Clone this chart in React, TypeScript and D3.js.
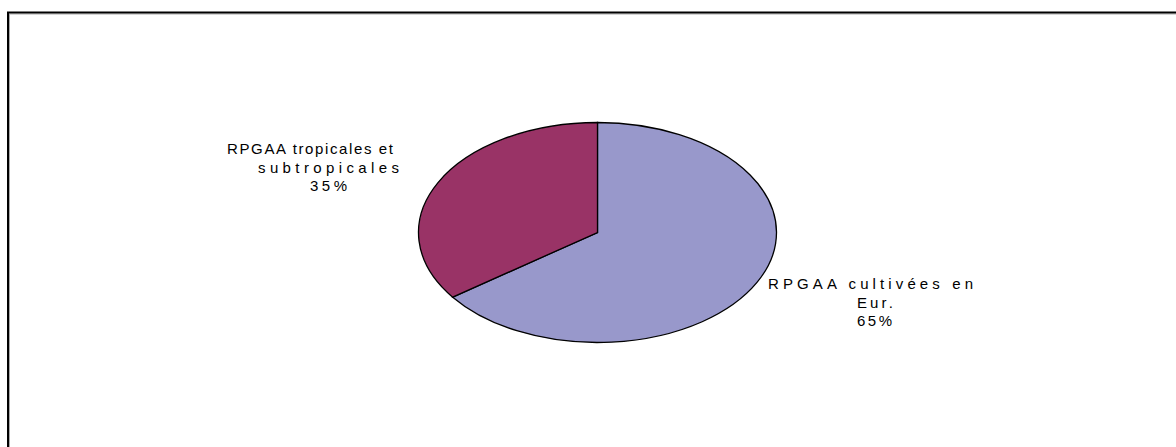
import React from "react";
import * as d3 from "d3";

const categories = ["RPGAA cultivées en Eur.", "RPGAA tropicales et subtropicales"];
const values = [65, 35];
const colors = ["#9898CB", "#993366"];
const labelLines = [
  ["RPGAA cultivées en", "Eur.", "65%"],
  ["RPGAA tropicales et", "subtropicales", "35%"],
];

const W = 1176;
const H = 447;
const cx = 597.5;
const cy = 232.5;
const rx = 179;
const ry = 110;

// label line boxes: [startX, endX, baselineY]
const labelBoxes = [
  [
    [768, 973, 289],
    [857, 893, 307.5],
    [857, 892, 326],
  ],
  [
    [227, 393, 154],
    [258, 399, 172.5],
    [310, 347, 191],
  ],
];

export default function App() {
  const pie = d3.pie<number>().sort(null).value((d) => d);
  const arcs = pie(values);
  const arc = d3.arc<d3.PieArcDatum<number>>().innerRadius(0).outerRadius(ry);
  return (
    <svg width={W} height={H} style={{ position: "absolute", left: 0, top: 0 }}>
      <rect x={0} y={0} width={W} height={H} fill="#fff" />
      <rect x={9.5} y={14} width={W + 50} height={H + 50} fill="none" stroke="#aaa" strokeWidth={1} />
      <rect x={8} y={12.5} width={W + 50} height={H + 50} fill="none" stroke="#000" strokeWidth={2} />
      <g transform={`translate(${cx},${cy}) scale(${rx / ry},1)`}>
        {arcs.map((a, i) => (
          <path
            key={categories[i]}
            d={arc(a) || ""}
            fill={colors[i]}
            stroke="#000"
            strokeWidth={1.3}
            vectorEffect="non-scaling-stroke"
          />
        ))}
      </g>
      {labelLines.map((lines, i) => (
        <text
          key={categories[i]}
          fontFamily="'Liberation Sans', Arial, sans-serif"
          fontSize={15}
          fill="#000"
        >
          {lines.map((t, j) => {
            const [x0, x1, y] = labelBoxes[i][j];
            return (
              <tspan key={j} x={x0} y={y} textLength={x1 - x0} lengthAdjust="spacing">
                {t}
              </tspan>
            );
          })}
        </text>
      ))}
    </svg>
  );
}
